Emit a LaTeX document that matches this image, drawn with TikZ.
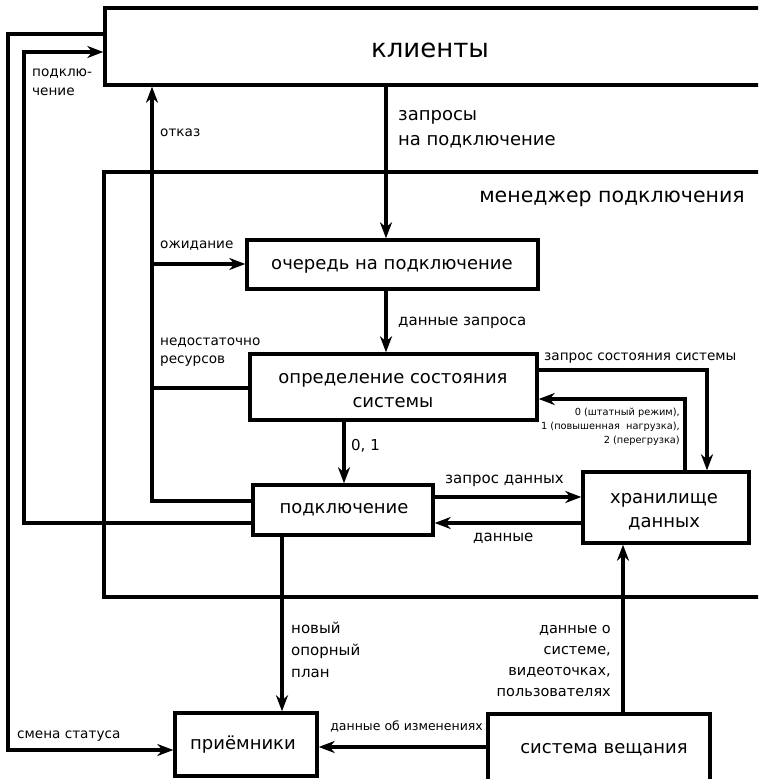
\documentclass[tikz,border=0pt]{standalone}
\usepackage{fontspec}
\setmainfont{DejaVu Sans}
\usetikzlibrary{arrows.meta}
\newcommand{\fsz}[2]{\fontsize{#1}{#2}\selectfont}
\begin{document}
\begin{tikzpicture}[x=1pt,y=-1pt,
 box/.style={draw,line width=3.4pt,inner sep=0pt},
 conn/.style={line width=3.2pt},
 arr/.style={conn,-{Stealth[length=16pt,width=12pt,inset=5pt]}},
 txt/.style={inner sep=0pt,align=left}]
\useasboundingbox (0,0) rectangle (758,779);
\clip (0,0) rectangle (758,779);
% boxes
\node[box,minimum width=672pt,minimum height=77pt] (cl) at (441,46.5) {};
\node[box,minimum width=672pt,minimum height=425pt] (mg) at (440,384.5) {};
\node[box,minimum width=291pt,minimum height=49pt] (qu) at (392.5,264.5) {};
\node[box,minimum width=287pt,minimum height=66pt] (st) at (393.5,387) {};
\node[box,minimum width=180pt,minimum height=50pt] (pd) at (343,510) {};
\node[box,minimum width=166pt,minimum height=71pt] (dt) at (666,507.5) {};
\node[box,minimum width=142pt,minimum height=63pt] (pr) at (246,744.5) {};
\node[box,minimum width=222pt,minimum height=90pt] (bc) at (599,759) {};
% box texts (base = last line)
\node[txt,font=\fsz{26}{30},anchor=base] (tcl) at (430,57) {клиенты};
\node[txt,font=\fsz{20.5}{24},anchor=base east] (tmg) at (745,202) {менеджер подключения};
\node[txt,font=\fsz{18}{22},anchor=base] (tqu) at (392,269) {очередь на подключение};
\node[txt,align=center,font=\fsz{18}{24},anchor=base] (tst) at (393,407) {определение состояния\\системы};
\node[txt,font=\fsz{18}{22},anchor=base] (tpd) at (344,513) {подключение};
\node[txt,align=center,font=\fsz{18}{24},anchor=base] (tdt) at (664,527) {хранилище\\данных};
\node[txt,font=\fsz{18}{22},anchor=base] (tpr) at (243,749) {приёмники};
\node[txt,font=\fsz{18}{22},anchor=base] (tbc) at (604,753) {система вещания};
% lanes
\coordinate (a1) at (8,34);
\coordinate (a2) at (8,750);
\coordinate (b1) at (24,523);
\coordinate (b2) at (24,52);
\coordinate (c1) at (152,501);
\coordinate (d1) at (152,388);
\coordinate (e1) at (152,264);
\coordinate (f1) at (386,0);
\coordinate (h1) at (707,370);
\coordinate (i1) at (685,399);
\coordinate (j1) at (344,0);
\coordinate (k1) at (0,497);
\coordinate (l1c) at (0,523);
\coordinate (m1) at (282,0);
\coordinate (n1) at (623,0);
\coordinate (o1) at (0,747);
% connectors
\draw[arr] (cl.west |- a1) -- (a1) -- (a2) -- (pr.west |- a2);
\draw[arr] (pd.west |- b1) -- (b1) -- (b2) -- (cl.west |- b2);
\draw[arr] (pd.west |- c1) -- (c1) -- (cl.south -| c1);
\draw[conn] (st.west |- d1) -- (d1);
\draw[arr] (e1) -- (qu.west |- e1);
\draw[arr] (cl.south -| f1) -- (qu.north -| f1);
\draw[arr] (qu.south -| f1) -- (st.north -| f1);
\draw[arr] (st.east |- h1) -- (h1) -- (dt.north -| h1);
\draw[arr] (dt.north -| i1) -- (i1) -- (st.east |- i1);
\draw[arr] (st.south -| j1) -- (pd.north -| j1);
\draw[arr] (pd.east |- k1) -- (dt.west |- k1);
\draw[arr] (dt.west |- l1c) -- (pd.east |- l1c);
\draw[arr] (pd.south -| m1) -- (pr.north -| m1);
\draw[arr] (bc.north -| n1) -- (dt.south -| n1);
\draw[arr] (bc.west |- o1) -- (pr.east |- o1);
% labels (base = last line)
\node[txt,font=\fsz{13.6}{19},anchor=base west] (lb1) at (32,95) {подклю-\\чение};
\node[txt,font=\fsz{13.6}{19},anchor=base west] (lb2) at (160,136) {отказ};
\node[txt,font=\fsz{18}{25},anchor=base west] (lb3) at (398,145) {запросы\\на подключение};
\node[txt,font=\fsz{13.6}{19},anchor=base west] (lb4) at (160,248) {ожидание};
\node[txt,font=\fsz{13.6}{18},anchor=base west] (lb5) at (160,363) {недостаточно\\ресурсов};
\node[txt,font=\fsz{15}{19},anchor=base west] (lb6) at (398,325) {данные запроса};
\node[txt,font=\fsz{13.6}{16},anchor=base west] (lb7) at (544,360.5) {запрос состояния системы};
\node[txt,align=right,font=\fsz{9.8}{14},anchor=base east] (lb8) at (680,443) {0 (штатный режим),\\1 (повышенная\ \ нагрузка),\\2 (перегрузка)};
\node[txt,font=\fsz{15}{19},anchor=base west] (lb9) at (351,450) {0, 1};
\node[txt,font=\fsz{15}{19},anchor=base west] (lb10) at (445,483) {запрос данных};
\node[txt,font=\fsz{15}{19},anchor=base west] (lb11) at (473,541) {данные};
\node[txt,font=\fsz{15}{22},anchor=base west] (lb12) at (291,677) {новый\\опорный\\план};
\node[txt,align=right,font=\fsz{14.5}{21},anchor=base east] (lb13) at (611,696) {данные о\\системе,\\видеоточках,\\пользователях};
\node[txt,font=\fsz{13.6}{19},anchor=base west] (lb14) at (17,738) {смена статуса};
\node[txt,font=\fsz{12.5}{16},anchor=base east] (lb15) at (483,730) {данные об изменениях};
\end{tikzpicture}
\end{document}
